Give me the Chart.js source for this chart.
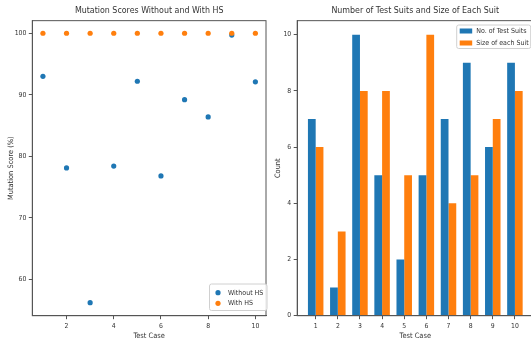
<!DOCTYPE html>
<html>
<head>
<meta charset="utf-8">
<script src="https://cdn.jsdelivr.net/npm/chart.js@4.4.1/dist/chart.umd.min.js"></script>
<style>
    html, body { margin: 0; padding: 0; background: #fff; overflow: hidden; width: 531px; height: 342px; }
    canvas { position: absolute; top: 0; }
    #scoreChart { left: 0; }
    #suitChart { left: 272px; }
</style>
</head>
<body>
<canvas id="scoreChart" width="270" height="342"></canvas>
<canvas id="suitChart" width="262" height="342"></canvas>
<script>
// Data
const testCases = [1, 2, 3, 4, 5, 6, 7, 8, 9, 10];
const withoutHS = [93.0, 78.1, 56.2, 78.4, 92.2, 76.8, 89.2, 86.4, 99.7, 92.1];
const withHS = [100, 100, 100, 100, 100, 100, 100, 100, 100, 100];
const numTestSuits = [7, 1, 10, 5, 2, 5, 7, 9, 6, 9];
const sizeEachSuit = [6, 3, 8, 8, 5, 10, 4, 5, 7, 8];
const scoreXTicks = [2, 4, 6, 8, 10];
const scoreYTicks = [60, 70, 80, 90, 100];
const countYTicks = [0, 2, 4, 6, 8, 10];

const BLUE = '#1f77b4';
const ORANGE = '#ff7f0e';
const FONT = "'Liberation Sans Narrow', 'DejaVu Sans Condensed', 'Liberation Sans', sans-serif";
const AXIS = '#555';
const TEXT = '#333';

// Draws the full frame (top and right spines) and a legend inside the plot
const framePlugin = {
    id: 'frame',
    afterDraw(chart, args, opts) {
        const c = chart.ctx;
        const a = chart.chartArea;
        c.save();
        c.strokeStyle = AXIS;
        c.lineWidth = 1;
        c.strokeRect(a.left, a.top, a.right - a.left, a.bottom - a.top);

        const lg = opts.legend;
        if (lg) {
            c.fillStyle = 'rgba(255,255,255,0.85)';
            c.strokeStyle = '#d0d0d0';
            c.beginPath();
            c.roundRect(lg.x, lg.y, lg.w, lg.h, 2);
            c.fill();
            c.stroke();
            c.font = '7px ' + FONT;
            c.textBaseline = 'middle';
            c.textAlign = 'left';
            chart.data.datasets.forEach((ds, i) => {
                const y = lg.y + lg.first + i * lg.step;
                c.fillStyle = ds.backgroundColor;
                if (lg.kind === 'dot') {
                    c.beginPath();
                    c.arc(lg.x + 8.5, y, 2.6, 0, Math.PI * 2);
                    c.fill();
                } else {
                    c.fillRect(lg.x + 3, y - 2.5, 12.5, 5);
                }
                c.fillStyle = TEXT;
                c.fillText(ds.label, lg.x + lg.textX, y);
            });
        }
        c.restore();
    }
};

function tickSetter(values) {
    return scale => { scale.ticks = values.map(v => ({ value: v })); };
}

// Left: mutation scores scatter
new Chart(document.getElementById('scoreChart'), {
    type: 'scatter',
    data: {
        datasets: [
            {
                label: 'Without HS',
                data: testCases.map((x, i) => ({ x: x, y: withoutHS[i] })),
                backgroundColor: BLUE,
                borderWidth: 0,
                pointRadius: 2.6,
                order: 1
            },
            {
                label: 'With HS',
                data: testCases.map((x, i) => ({ x: x, y: withHS[i] })),
                backgroundColor: ORANGE,
                borderWidth: 0,
                pointRadius: 2.6,
                order: 0
            }
        ]
    },
    options: {
        responsive: false,
        animation: false,
        layout: { padding: { left: 0, right: 0.9, top: 0, bottom: 0 } },
        plugins: {
            legend: { display: false },
            tooltip: { enabled: false },
            title: {
                display: true,
                text: 'Mutation Scores Without and With HS',
                color: TEXT,
                fullSize: false,
                font: { family: FONT, size: 8.8, weight: 'normal' },
                padding: { top: 5.8, bottom: 4.3 }
            },
            frame: { legend: { kind: 'dot', x: 209.5, y: 284, w: 57.5, h: 26.5, first: 8.7, step: 10.6, textX: 18.5 } }
        },
        scales: {
            x: {
                type: 'linear',
                min: 0.55,
                max: 10.45,
                afterBuildTicks: tickSetter(scoreXTicks),
                afterFit: s => { s.height = 26.3; },
                grid: { drawOnChartArea: false, drawTicks: true, tickLength: 3.5, color: AXIS },
                border: { display: true, color: AXIS },
                ticks: { color: TEXT, padding: 3, maxRotation: 0, font: { family: FONT, size: 6.8 } },
                title: { display: true, text: 'Test Case', color: TEXT, font: { family: FONT, size: 7.4 }, padding: { top: 0, bottom: 1.8 } }
            },
            y: {
                type: 'linear',
                min: 54.08,
                max: 102.05,
                afterBuildTicks: tickSetter(scoreYTicks),
                afterFit: s => { s.width = 32.3; },
                grid: { drawOnChartArea: false, drawTicks: true, tickLength: 3.5, color: AXIS },
                border: { display: true, color: AXIS },
                ticks: { color: TEXT, padding: 2.5, font: { family: FONT, size: 6.8 } },
                title: { display: true, text: 'Mutation Score (%)', color: TEXT, font: { family: FONT, size: 7.4 }, padding: { top: 6.5, bottom: 0 } }
            }
        }
    },
    plugins: [framePlugin]
});

// Right: grouped bars
const barIndex = testCases.map((t, i) => i);
new Chart(document.getElementById('suitChart'), {
    type: 'bar',
    data: {
        datasets: [
            {
                label: 'No. of Test Suits',
                data: barIndex.map(i => ({ x: i, y: numTestSuits[i] })),
                backgroundColor: BLUE,
                borderWidth: 0
            },
            {
                label: 'Size of each Suit',
                data: barIndex.map(i => ({ x: i, y: sizeEachSuit[i] })),
                backgroundColor: ORANGE,
                borderWidth: 0
            }
        ]
    },
    options: {
        responsive: false,
        animation: false,
        categoryPercentage: 0.7,
        barPercentage: 1.0,
        layout: { padding: { left: 0, right: 0.6, top: 0, bottom: 0 } },
        plugins: {
            legend: { display: false },
            tooltip: { enabled: false },
            title: {
                display: true,
                text: 'Number of Test Suits and Size of Each Suit',
                color: TEXT,
                fullSize: false,
                font: { family: FONT, size: 8.8, weight: 'normal' },
                padding: { top: 5.8, bottom: 4.3 }
            },
            frame: { legend: { kind: 'rect', x: 184.7, y: 25, w: 74, h: 23.5, first: 6, step: 12, textX: 19.5 } }
        },
        scales: {
            x: {
                type: 'linear',
                offset: false,
                min: -0.835,
                max: 9.835,
                afterBuildTicks: tickSetter(barIndex),
                afterFit: s => { s.height = 26.3; },
                grid: { offset: false, drawOnChartArea: false, drawTicks: true, tickLength: 3.5, color: AXIS },
                border: { display: true, color: AXIS },
                ticks: { color: TEXT, padding: 3, maxRotation: 0, autoSkip: false, font: { family: FONT, size: 6.8 },
                    callback: v => String(testCases[v]) },
                title: { display: true, text: 'Test Case', color: TEXT, font: { family: FONT, size: 7.4 }, padding: { top: 0, bottom: 1.8 } }
            },
            y: {
                type: 'linear',
                min: 0,
                max: 10.5,
                afterBuildTicks: tickSetter(countYTicks),
                afterFit: s => { s.width = 25.2; },
                grid: { drawOnChartArea: false, drawTicks: true, tickLength: 3.5, color: AXIS },
                border: { display: true, color: AXIS },
                ticks: { color: TEXT, padding: 2.5, font: { family: FONT, size: 6.8 } },
                title: { display: true, text: 'Count', color: TEXT, font: { family: FONT, size: 7.4 }, padding: { top: 2, bottom: 0 } }
            }
        }
    },
    plugins: [framePlugin]
});
</script>
</body>
</html>
